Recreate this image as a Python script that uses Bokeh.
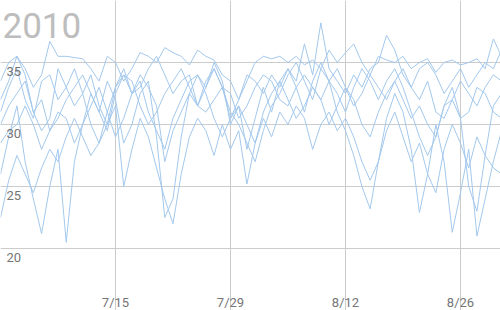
from datetime import datetime, timedelta
from bokeh.plotting import figure
from bokeh.models import ColumnDataSource, Range1d, FixedTicker
from bokeh.core.properties import value
from bokeh.embed import file_html
from bokeh.resources import INLINE

title_text = "2010"
start_date = datetime(2010, 7, 1)
dates = [start_date + timedelta(days=i) for i in range(62)]

y_ticks = [20, 25, 30, 35]
y_tick_labels = ["20", "25", "30", "35"]
x_tick_dates = [datetime(2010, 7, 15), datetime(2010, 7, 29), datetime(2010, 8, 12), datetime(2010, 8, 26)]
x_tick_labels = ["7/15", "7/29", "8/12", "8/26"]

s1 = [33.5, 35.0, 35.5, 34.5, 33.0, 34.0, 36.7, 35.5, 35.5, 35.4,
      35.3, 34.5, 33.5, 35.5, 35.0, 33.5, 34.5, 35.8, 35.5, 35.0,
      36.2, 35.8, 35.5, 34.8, 36.0, 35.5, 35.2, 34.0, 33.5, 32.0,
      33.5, 35.0, 35.5, 35.3, 35.5, 35.0, 35.5, 34.8, 35.2, 34.5,
      36.0, 35.0, 35.8, 36.5, 35.0, 34.0, 35.5, 35.2, 35.0, 35.5,
      34.5, 35.0, 35.3, 34.2, 35.0, 35.2, 34.8, 35.0, 35.3, 34.5,
      36.9, 35.5]
s2 = [31.0, 33.0, 34.5, 32.0, 30.5, 33.5, 34.0, 32.0, 33.0, 34.5,
      32.5, 34.0, 31.5, 30.0, 33.0, 34.5, 32.5, 33.0, 34.5, 35.5,
      34.0, 32.5, 33.5, 34.0, 31.5, 33.0, 34.5, 33.0, 30.5, 32.0,
      34.0, 33.5, 32.5, 34.0, 33.0, 34.5, 33.5, 36.5, 34.0, 38.2,
      34.5, 33.5, 32.5, 34.0, 33.0, 34.5, 35.0, 37.2, 36.0, 34.0,
      33.0, 34.5, 35.0, 34.0, 32.5, 33.5, 34.5, 33.0, 34.0, 35.0,
      34.5, 36.0]
s3 = [30.0, 31.5, 32.5, 33.5, 31.0, 32.0, 29.5, 30.5, 32.0, 33.0,
      34.0, 32.5, 31.0, 29.5, 32.5, 34.0, 33.5, 31.5, 30.0, 31.0,
      32.5, 33.5, 34.5, 33.0, 31.5, 31.0, 32.0, 33.0, 32.5, 30.5,
      31.5, 33.0, 34.0, 33.5, 32.0, 31.5, 33.0, 34.0, 33.0, 32.0,
      33.5, 34.5, 33.0, 31.5, 32.5, 34.0, 33.0, 32.0, 33.5, 34.5,
      33.0, 32.0, 33.5, 31.0, 30.5, 32.0, 33.5, 32.5, 31.5, 33.0,
      34.0, 33.5]
s4 = [28.5, 29.5, 30.0, 31.5, 30.0, 28.0, 29.5, 31.0, 30.5, 28.5,
      30.0, 31.5, 33.0, 31.0, 29.0, 30.5, 32.5, 33.5, 31.0, 29.5,
      28.0, 30.5, 32.0, 33.5, 34.0, 32.5, 30.5, 29.0, 30.5, 31.5,
      30.0, 28.5, 31.0, 32.5, 33.5, 32.0, 30.5, 31.5, 33.0, 32.0,
      30.0, 31.5, 33.0, 32.0, 30.0, 29.0, 31.0, 32.5, 33.5, 32.0,
      30.5, 31.5, 30.0, 29.0, 31.5, 32.0, 30.5, 31.0, 33.0, 32.5,
      31.0, 30.5]
s5 = [22.5, 25.5, 27.5, 26.0, 24.5, 26.5, 28.0, 27.0, 29.0, 30.5,
      29.0, 27.5, 28.5, 30.0, 31.5, 25.0, 28.0, 30.5, 29.0, 26.5,
      24.0, 22.0, 26.0, 29.0, 30.5, 29.5, 27.5, 30.0, 28.0, 29.5,
      25.2, 28.5, 30.5, 29.0, 31.0, 30.0, 31.5, 30.5, 28.0, 30.0,
      31.0, 29.5, 30.5, 29.0, 27.0, 25.5, 27.0, 29.5, 31.0, 29.0,
      27.0, 28.5, 26.0, 24.5, 28.0, 30.0, 28.5, 26.5, 29.0, 27.5,
      26.5, 26.0]
s6 = [26.0, 29.0, 31.5, 27.0, 24.0, 21.2, 25.0, 28.0, 20.5, 27.0,
      30.0, 32.5, 31.0, 33.5, 32.0, 28.5, 30.0, 32.5, 33.5, 29.0,
      22.5, 24.0, 29.0, 32.5, 34.0, 33.0, 35.0, 33.5, 30.0, 31.5,
      28.0, 30.5, 33.0, 31.0, 33.5, 34.5, 33.0, 31.0, 33.5, 35.0,
      33.5, 31.0, 29.5, 27.5, 25.0, 23.2, 27.0, 30.5, 32.5, 31.0,
      28.0, 22.9, 26.0, 30.0, 27.0, 21.3, 24.5, 28.0, 21.0, 24.0,
      27.0, 29.5]
s7 = [32.0, 33.5, 35.5, 34.0, 31.0, 29.5, 30.5, 34.5, 33.0, 31.5,
      32.5, 30.0, 28.5, 31.0, 33.0, 34.0, 32.5, 34.0, 33.0, 31.5,
      27.0, 29.5, 31.0, 32.5, 31.5, 33.5, 34.5, 33.0, 31.0, 30.0,
      28.5, 27.0, 29.5, 31.5, 32.5, 34.0, 35.0, 33.5, 32.0, 34.5,
      33.5, 32.5, 31.0, 33.0, 34.5, 33.5, 32.0, 33.5, 34.5, 33.0,
      31.0, 29.0, 27.5, 29.0, 31.5, 33.0, 30.5, 25.0, 23.0, 27.5,
      31.5, 32.5]
series = [s1, s2, s3, s4, s5, s6, s7]

def ms(d):
    return (d - datetime(1970, 1, 1)).total_seconds() * 1000.0

x_end = start_date + timedelta(days=60.87)

p = figure(width=500, height=310, output_backend="svg", toolbar_location=None,
           x_axis_type="datetime",
           x_range=Range1d(ms(start_date), ms(x_end)), y_range=Range1d(15, 40),
           min_border=0, min_border_left=0, min_border_right=0,
           min_border_top=0, min_border_bottom=0)
p.outline_line_color = None
p.background_fill_color = "white"
p.border_fill_color = "white"
p.xaxis.visible = False
p.yaxis.visible = False
p.xgrid.ticker = FixedTicker(ticks=[ms(start_date)] + [ms(d) for d in x_tick_dates])
p.ygrid.ticker = FixedTicker(ticks=y_ticks + [40])
for g in (p.xgrid, p.ygrid):
    g.grid_line_color = "#cccccc"
    g.grid_line_width = 1

for s in series:
    src = ColumnDataSource(dict(x=dates, y=s))
    p.line("x", "y", source=src, line_color="#a3c8ec", line_width=1)

ysrc = ColumnDataSource(dict(x=[start_date] * len(y_ticks), y=y_ticks, t=y_tick_labels))
p.text("x", "y", text="t", source=ysrc, x_offset=6, y_offset=4,
       text_baseline="top", text_align="left", text_font=value("Roboto"),
       text_font_size="13px", text_color="#757575")

xsrc = ColumnDataSource(dict(x=x_tick_dates, y=[15] * len(x_tick_dates), t=x_tick_labels))
p.text("x", "y", text="t", source=xsrc, y_offset=-8,
       text_baseline="alphabetic", text_align="center", text_font=value("Roboto"),
       text_font_size="13px", text_color="#757575")

tsrc = ColumnDataSource(dict(x=[start_date], y=[40], t=[title_text]))
p.text("x", "y", text="t", source=tsrc, x_offset=2, y_offset=25,
       text_baseline="alphabetic", text_align="left", text_font=value("Roboto"),
       text_font_size="35px", text_color="#bdbdbd")

open("out.html", "w").write(file_html(p, INLINE))
